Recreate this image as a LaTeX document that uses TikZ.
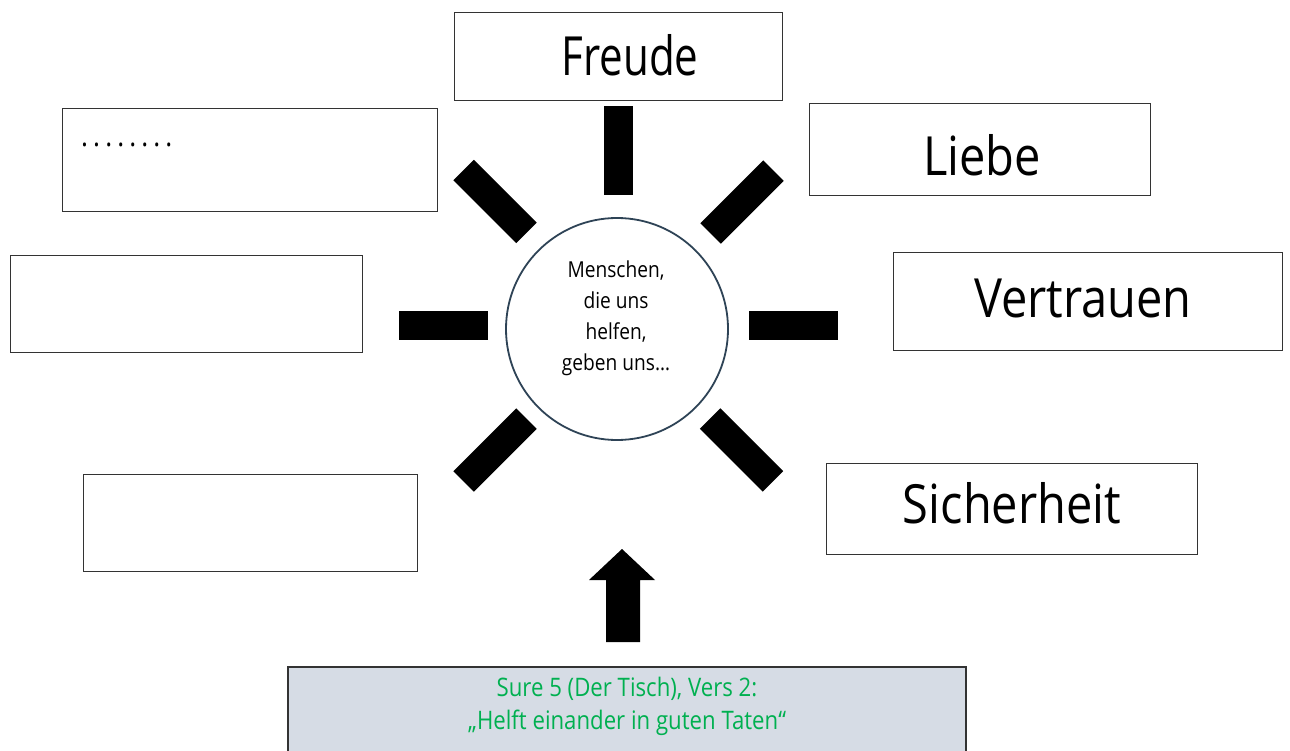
\documentclass[tikz,border=0pt]{standalone}
\usepackage{fontspec}
\setmainfont{Open Sans}[FakeStretch=0.87]
\newfontfamily\narrowfont{Open Sans}[FakeStretch=0.78]
\definecolor{boxgray}{HTML}{333333}
\definecolor{ringblue}{HTML}{2E4356}
\definecolor{versegreen}{HTML}{00B050}
\definecolor{versefill}{HTML}{D6DCE5}
\begin{document}
\begin{tikzpicture}[x=1pt,y=-1pt,
  box/.style={draw=boxgray, line width=1.3pt, inner sep=0pt, anchor=north west, fill=white},
  bigword/.style={font=\fontsize{54}{60}\selectfont, inner sep=0pt},
  ray/.style={fill=black, inner sep=0pt, minimum width=89pt, minimum height=29pt}]
\useasboundingbox (0,0) rectangle (1290,751);
\fill[white] (0,0) rectangle (1290,751);
% boxes
\node[box, minimum width=328pt, minimum height=88pt] (freude) at (454,12) {};
\node[bigword, font=\fontsize{54}{60}\narrowfont] (freudetext) at (630,55) {Freude};
\node[box, minimum width=375pt, minimum height=103pt] (dotsbox) at (62,108) {};
\node[anchor=base west, inner sep=0pt, font=\fontsize{30}{34}\selectfont\addfontfeature{LetterSpace=17}] (dots) at (81,147) {........};
\node[box, minimum width=341pt, minimum height=92pt] (liebe) at (809,103) {};
\node[bigword] (liebetext) at (982,155) {Liebe};
\node[box, minimum width=352pt, minimum height=97pt] (leftmid) at (10,255) {};
\node[box, minimum width=389pt, minimum height=98pt] (vertrauen) at (893,252) {};
\node[bigword] (vertrauentext) at (1083,298) {Vertrauen};
\node[box, minimum width=334pt, minimum height=97pt] (leftlow) at (83,474) {};
\node[box, minimum width=371pt, minimum height=91pt] (sicherheit) at (826,463) {};
\node[bigword] (sicherheittext) at (1012,503) {Sicherheit};
% circle
\node[circle, draw=ringblue, line width=1.8pt, minimum size=222pt, inner sep=0pt] (sun) at (617,329) {};
\node[align=center, inner sep=0pt, font=\fontsize{22}{31}\selectfont] (suntext) at (616,318) {Menschen,\\die uns\\helfen,\\geben uns…};
% rays
\node[ray, rotate=90] (rtop) at (618.5,151) {};
\node[ray] (rleft) at (443.5,325.5) {};
\node[ray] (rright) at (793.5,325.5) {};
\node[ray, rotate=-45] (rul) at (495,201.5) {};
\node[ray, rotate=45] (rur) at (742,202) {};
\node[ray, rotate=45] (rll) at (495,450) {};
\node[ray, rotate=-45] (rlr) at (741.5,450) {};
% arrow
\fill[black] (622,549) -- (655,580) -- (640,580) -- (640,642) -- (606,642) -- (606,580) -- (589,580) -- cycle;
% verse box
\node[draw=boxgray, line width=1.5pt, fill=versefill, anchor=north west, inner sep=0pt, minimum width=678pt, minimum height=100pt] (verse) at (287,666) {};
\node[align=center, inner sep=0pt, text=versegreen, font=\fontsize{25.5}{33}\selectfont] (versetext) at (627,706) {Sure 5 (Der Tisch), Vers 2:\\„Helft einander in guten Taten“};
\end{tikzpicture}
\end{document}
